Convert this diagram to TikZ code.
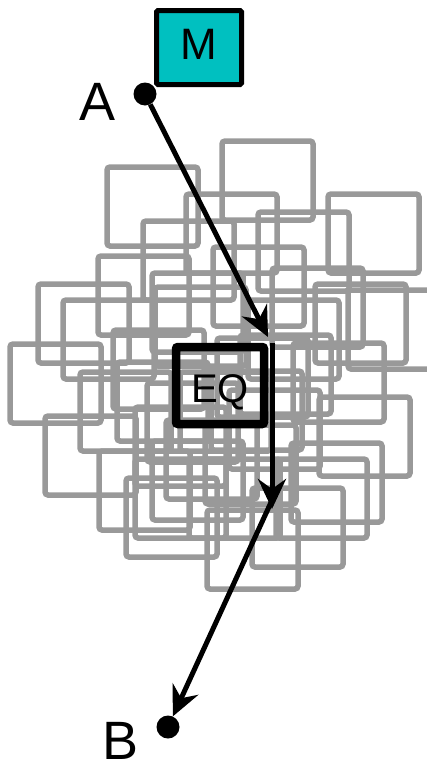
\documentclass[tikz,border=0pt]{standalone}
\usepackage{fontspec}
\setmainfont{Liberation Sans}
\usetikzlibrary{arrows.meta}
\definecolor{mteal}{RGB}{0,192,192}
\definecolor{boxgray}{RGB}{153,153,153}

\begin{document}
\begin{tikzpicture}[
  x=1pt, y=-1pt,
  sq/.style={draw=boxgray, line width=5.5pt, rounded corners=3pt},
  dot/.style={circle, fill=black, inner sep=0pt, minimum size=23pt},
  lbl/.style={anchor=base, inner sep=0pt, font=\fontsize{54}{60}\selectfont},
  mbox/.style={draw, line width=5pt, fill=mteal, rounded corners=1.5pt, minimum width=85pt, minimum height=74pt, inner sep=0pt, text height=32pt, text depth=9pt, font=\fontsize{44}{48}\selectfont},
  eqbox/.style={draw, line width=8.5pt, rounded corners=2pt, minimum width=88pt, minimum height=77pt, inner sep=0pt, text height=33pt, text depth=0pt, font=\fontsize{40}{44}\selectfont},
  arr/.style={-{Stealth[length=30pt, width=28pt, inset=10pt]}, line width=5pt}
]
\useasboundingbox (0,0) rectangle (427,763);

\node[mbox] (M) at (199,47.5) {M};
\node[dot] (A) at (145,94) {};
\node[dot] (B) at (168,727) {};
\node[lbl] (Alab) at (98,120) {A};
\node[lbl] (Blab) at (121,759) {B};

\coordinate (eqin) at (268,337);
\coordinate (eqtop) at (272,343);
\coordinate (eqout) at (272,509);
\coordinate (eqlow) at (273,498);

% cloud of gray squares
\foreach \px/\py in {107/167, 222/141, 328/194, 186/194, 258/212, 143/221, 98/256,
  213/247, 152/273, 155/287, 272/268, 315/284, 348/290, 248/300, 240/335, 293/343,
  217/338, 211/371, 319/397, 291/443, 276/459, 252/488, 207/510, 126/478, 152/441,
  99/451, 189/459, 45/416, 80/372, 113/330, 117/362, 135/459, 38/284, 63/300,
  10/344, 135/407, 147/383, 180/372, 229/390, 166/420, 205/425}
  \draw[sq] (\px,\py) rectangle ++(91,79);

\draw[arr] (A) -- (eqin);
\draw[arr] (eqtop) -- (eqout);
\draw[arr] (eqlow) -- (B);
\node[eqbox] (EQ) at (220,385.5) {EQ};
\end{tikzpicture}
\end{document}
